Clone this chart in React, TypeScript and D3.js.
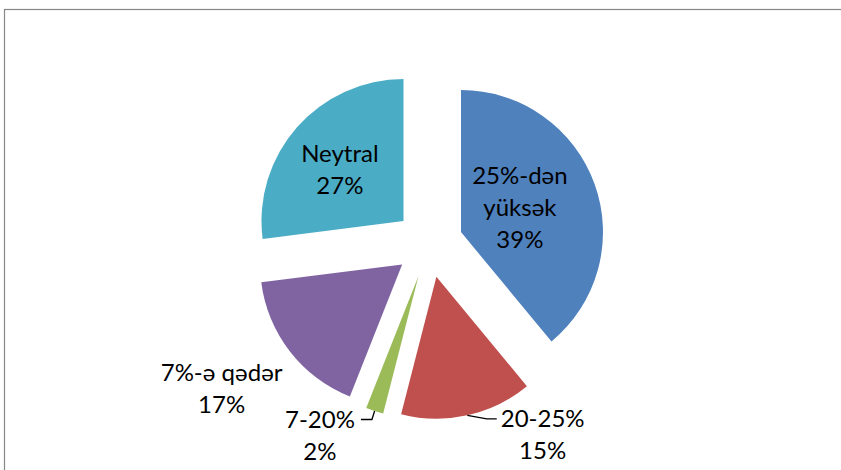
import React, { useEffect, useRef } from "react";
import * as d3 from "d3";

// Data
const categories = ["25%-dən yüksək", "20-25%", "7-20%", "7%-ə qədər", "Neytral"];
const labelLines = [["25%-dən", "yüksək"], ["20-25%"], ["7-20%"], ["7%-ə qədər"], ["Neytral"]];
const values = [39, 15, 2, 17, 27];
const colors = ["#4F81BD", "#C0504D", "#9BBB59", "#8064A2", "#4BACC6"];

// Label layout (angle in degrees clockwise from top, distance from exploded slice centre)
const labelAngle = [67, 146, 211.8, 235.5, 309.1];
const labelDist = [64, 190, 187, 219, 82];
const hasLeader = [false, true, true, false, false];

const W = 841;
const H = 470;
const CX = 429;
const CY = 243.6;
const R = 142;
const EXPLODE = 34;
const FONT = "Lato, 'Open Sans', sans-serif";
const FS = 24;
const LH = 32;

export default function App() {
  const ref = useRef<SVGSVGElement | null>(null);

  useEffect(() => {
    const svg = d3.select(ref.current);
    svg.selectAll("*").remove();
    void categories;

    svg
      .append("rect")
      .attr("x", 4.5)
      .attr("y", 9.5)
      .attr("width", 900)
      .attr("height", 600)
      .attr("fill", "#ffffff")
      .attr("stroke", "#868686")
      .attr("stroke-width", 1.2);

    const pie = d3
      .pie<number>()
      .sort(null)
      .value((d) => d)
      .startAngle(0)
      .endAngle(2 * Math.PI);
    const arcs = pie(values);
    const arc = d3.arc<d3.PieArcDatum<number>>().innerRadius(0).outerRadius(R);

    const polar = (a: number, r: number): [number, number] => [Math.sin(a) * r, -Math.cos(a) * r];

    const centers = arcs.map((a) => {
      const mid = (a.startAngle + a.endAngle) / 2;
      const [dx, dy] = polar(mid, EXPLODE);
      return [CX + dx, CY + dy] as [number, number];
    });

    const g = svg.append("g");
    arcs.forEach((a, i) => {
      g.append("path")
        .attr("d", arc(a) as string)
        .attr("transform", `translate(${centers[i][0]},${centers[i][1]})`)
        .attr("fill", colors[i]);
    });

    arcs.forEach((a, i) => {
      const [c0, c1] = centers[i];
      const [lx0, ly0] = polar((labelAngle[i] * Math.PI) / 180, labelDist[i]);
      const lx = c0 + lx0;
      const ly = c1 + ly0;
      const lines = [...labelLines[i], `${values[i]}%`];
      const n = lines.length;
      const firstBase = ly - ((n - 1) * LH) / 2 + FS * 0.36;
      const t = svg
        .append("text")
        .attr("text-anchor", "middle")
        .attr("font-family", FONT)
        .attr("font-size", FS)
        .attr("fill", "#000");
      lines.forEach((ln, k) => {
        t.append("tspan").attr("x", lx).attr("y", firstBase + k * LH).text(ln);
      });

      if (hasLeader[i]) {
        const mid = (a.startAngle + a.endAngle) / 2;
        const [sx, sy] = polar(mid, R);
        const start: [number, number] = [c0 + sx, c1 + sy];
        const first = (t.select("tspan").node() as SVGTSpanElement).getComputedTextLength();
        const labelRight = lx > start[0];
        const yL = firstBase - 8;
        const endX = labelRight ? lx - first / 2 - 4 : lx + first / 2 + 6;
        const elbowX = labelRight ? endX - 10 : endX + 11;
        const path: [number, number][] = [start, [elbowX, yL], [endX, yL]];
        svg
          .append("path")
          .attr("d", d3.line()(path) as string)
          .attr("fill", "none")
          .attr("stroke", "#000")
          .attr("stroke-width", 1.3);
      }
    });
  }, []);

  return (
    <svg
      ref={ref}
      width={W}
      height={H}
      style={{ position: "absolute", left: 0, top: 0, display: "block" }}
    />
  );
}
